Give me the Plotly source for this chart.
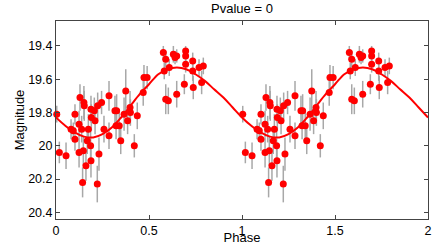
import plotly.graph_objects as go

# Observed points (phase 0-1); the chart repeats them at phase + 1
phase = [0.004, 0.018, 0.054, 0.081, 0.093, 0.102, 0.102, 0.124, 0.124, 0.129,
         0.138, 0.143, 0.147, 0.150, 0.152, 0.161, 0.168, 0.174, 0.186, 0.188,
         0.188, 0.190, 0.210, 0.206, 0.222, 0.224, 0.231, 0.245, 0.258, 0.285,
         0.285, 0.317, 0.323, 0.326, 0.340, 0.348, 0.366, 0.375, 0.385, 0.398,
         0.400, 0.421, 0.437, 0.469, 0.473, 0.490, 0.577, 0.590, 0.582, 0.609,
         0.631, 0.649, 0.640, 0.697, 0.697, 0.697, 0.735, 0.735, 0.769, 0.792,
         0.690, 0.738, 0.649, 0.590, 0.604, 0.783]
mag = [19.81, 20.04, 20.06, 19.90, 19.91, 19.81, 19.96, 20.04, 19.87, 19.71,
       19.90, 20.22, 20.03, 19.74, 19.76, 20.12, 19.97, 19.90, 20.00, 19.78,
       20.09, 19.83, 19.85, 19.79, 20.23, 19.76, 20.05, 19.74, 19.90, 19.70,
       19.94, 19.79, 19.88, 19.79, 19.88, 19.97, 19.81, 19.67, 19.85, 19.77,
       19.80, 20.00, 19.82, 19.68, 19.59, 19.59, 19.44, 19.48, 19.55, 19.53,
       19.45, 19.46, 19.47, 19.43, 19.46, 19.51, 19.49, 19.55, 19.53, 19.52,
       19.63, 19.65, 19.69, 19.72, 19.73, 19.62]
err = [0.05, 0.065, 0.08, 0.06, 0.05, 0.06, 0.07, 0.09, 0.08, 0.08,
       0.08, 0.09, 0.09, 0.10, 0.09, 0.09, 0.08, 0.09, 0.10, 0.08,
       0.10, 0.08, 0.08, 0.08, 0.11, 0.08, 0.10, 0.07, 0.08, 0.09,
       0.08, 0.09, 0.08, 0.10, 0.10, 0.08, 0.10, 0.13, 0.08, 0.10,
       0.08, 0.07, 0.08, 0.08, 0.075, 0.07, 0.04, 0.05, 0.05, 0.05,
       0.05, 0.04, 0.04, 0.03, 0.04, 0.05, 0.05, 0.06, 0.05, 0.05,
       0.06, 0.07, 0.08, 0.09, 0.08, 0.07]

# Model curve (phase 0-1 in steps of 0.05)
model_phase = [0.00, 0.05, 0.10, 0.15, 0.20, 0.25, 0.30, 0.35, 0.40, 0.45, 0.50,
               0.55, 0.60, 0.65, 0.70, 0.75, 0.80, 0.85, 0.90, 0.95, 1.00]
model_mag = [19.83, 19.88, 19.92, 19.945, 19.95, 19.93, 19.89, 19.83, 19.76, 19.69, 19.63,
             19.57, 19.54, 19.53, 19.54, 19.57, 19.61, 19.66, 19.71, 19.77, 19.83]

x_ticks = [0, 0.5, 1, 1.5, 2]
x_tick_labels = ["0", "0.5", "1", "1.5", "2"]
y_ticks = [19.4, 19.6, 19.8, 20.0, 20.2, 20.4]
y_tick_labels = ["19.4", "19.6", "19.8", "20", "20.2", "20.4"]

px = phase + [p + 1 for p in phase]
py = mag + mag
pe = err + err
mx = model_phase + [p + 1 for p in model_phase[1:]]
my = model_mag + model_mag[1:]

fig = go.Figure()
fig.add_trace(go.Scatter(
    x=px, y=py, mode="markers",
    marker=dict(color="#ff0000", size=7, line=dict(width=0)),
    error_y=dict(type="data", array=pe, visible=True, color="#a8a8a8",
                 thickness=1.5, width=0),
    cliponaxis=False, showlegend=False))
fig.add_trace(go.Scatter(
    x=mx, y=my, mode="lines", line=dict(color="#ff0000", width=2, shape="spline"),
    showlegend=False))

axis_common = dict(showgrid=False, zeroline=False, showline=True, linecolor="#444",
                   linewidth=1, mirror="ticks", ticks="inside", ticklen=4,
                   tickcolor="#444", tickfont=dict(size=12.5, color="#000"),
                   automargin=False)
fig.update_layout(
    width=436, height=245,
    margin=dict(l=56, r=8, t=21, b=26, autoexpand=False),
    paper_bgcolor="white", plot_bgcolor="white",
    font=dict(family="Liberation Sans, Arial, sans-serif", color="#000"),
    title=dict(text="Pvalue = 0", x=0.555, xanchor="center", y=0.985, yanchor="top",
               font=dict(size=13), automargin=False),
)
fig.update_xaxes(range=[0, 2], tickvals=x_ticks, ticktext=x_tick_labels,
                 title=dict(text="Phase", standoff=0, font=dict(size=13)), **axis_common)
fig.update_yaxes(range=[20.44, 19.25], tickvals=y_ticks, ticktext=y_tick_labels,
                 title=dict(text="Magnitude", standoff=0, font=dict(size=13)), **axis_common)

fig.write_html("out.html", config={"displayModeBar": False},
               post_script="document.body.style.margin='0px';document.body.style.padding='0px';")
